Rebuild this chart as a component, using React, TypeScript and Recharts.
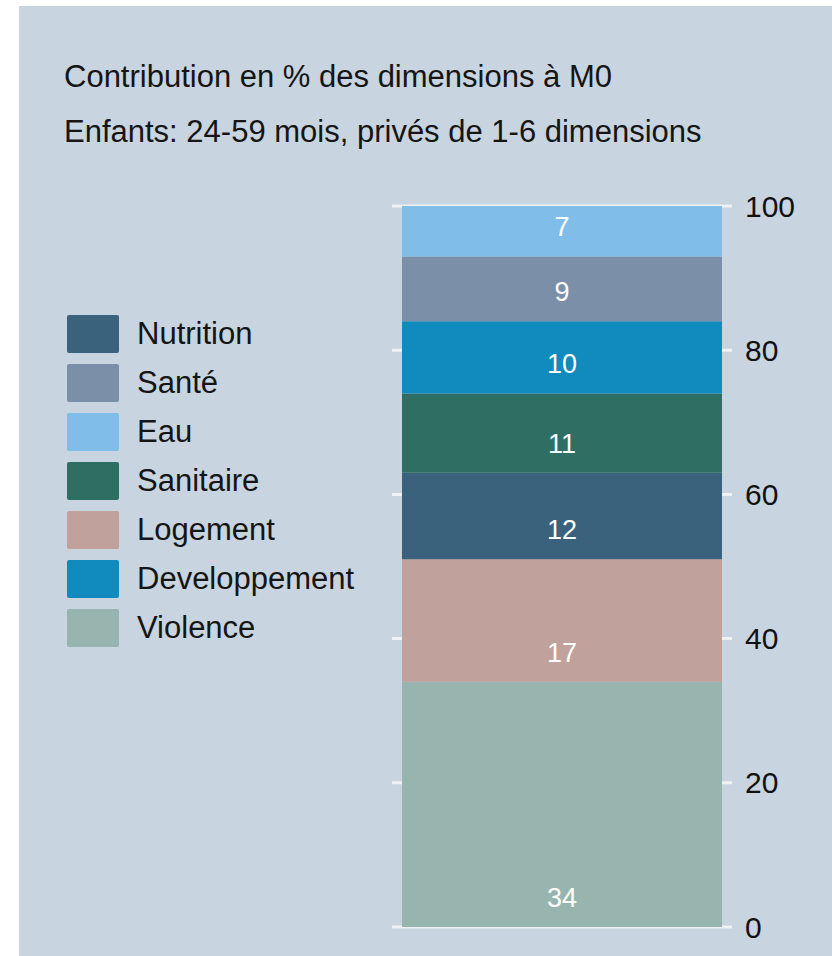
import React from 'react';
import { BarChart, Bar, XAxis, YAxis, CartesianGrid, LabelList } from 'recharts';

// stack order, bottom to top
const seriesNames = ['Violence', 'Logement', 'Nutrition', 'Sanitaire', 'Developpement', 'Santé', 'Eau'];
const seriesValues = [34, 17, 12, 11, 10, 9, 7];
const seriesColors = ['#97b5ae', '#c0a19c', '#3a627c', '#2e6e63', '#118abd', '#7b90a8', '#80bde8'];

const legendOrder = ['Nutrition', 'Santé', 'Eau', 'Sanitaire', 'Logement', 'Developpement', 'Violence'];
const yTicks = [0, 20, 40, 60, 80, 100];

const titleLines = [
    'Contribution en % des dimensions à M0',
    'Enfants: 24-59 mois, privés de 1-6 dimensions',
];

const FONT = '"Liberation Sans", Arial, Helvetica, sans-serif';
const BG = '#c8d4df';

const row: { [key: string]: number | string } = { name: 'M0' };
seriesNames.forEach((n, i) => { row[n] = seriesValues[i]; });
const data = [row];

function SegmentLabel(props: any) {
    const { x, y, width, height, value } = props;
    if (typeof x !== 'number' || typeof width !== 'number') return null;
    return (
        <text x={x + width / 2} y={y + height - 29} fill="#ffffff" textAnchor="middle"
            dominantBaseline="central" fontSize={27} fontFamily={FONT}>
            {value}
        </text>
    );
}

export default function App() {
    return (
        <div style={{ position: 'absolute', left: 0, top: 0, width: 832, height: 956, background: '#ffffff', overflow: 'hidden' }}>
            <div style={{ position: 'absolute', left: 19, top: 6, right: 0, bottom: 0, background: BG }} />

            {titleLines.map((t, i) => (
                <div key={t} style={{
                    position: 'absolute', left: 64, top: 59 + i * 55, fontFamily: FONT, fontSize: 31,
                    lineHeight: '36px', color: '#151515', whiteSpace: 'nowrap'
                }}>{t}</div>
            ))}

            <div style={{ position: 'absolute', left: 67, top: 315 }}>
                {legendOrder.map(name => (
                    <div key={name} style={{ display: 'flex', alignItems: 'center', height: 38, marginBottom: 11 }}>
                        <div style={{ width: 52, height: 38, borderRadius: 2, background: seriesColors[seriesNames.indexOf(name)] }} />
                        <span style={{ marginLeft: 18, fontFamily: FONT, fontSize: 31, color: '#151515', whiteSpace: 'nowrap' }}>{name}</span>
                    </div>
                ))}
            </div>

            <div style={{ position: 'absolute', left: 0, top: 0 }}>
                <BarChart width={832} height={956} data={data}
                    margin={{ top: 206, right: 20, bottom: 29, left: 392 }}
                    barCategoryGap={10}>
                    <CartesianGrid vertical={false} horizontal stroke="#eef2f5" strokeWidth={3} />
                    <XAxis dataKey="name" hide />
                    <YAxis orientation="right" domain={[0, 100]} ticks={yTicks} width={80}
                        axisLine={false} tickLine={false} tickSize={0} tickMargin={13}
                        tick={{ fill: '#111111', fontSize: 30, fontFamily: FONT }} />
                    {seriesNames.map((n, i) => (
                        <Bar key={n} dataKey={n} stackId="a" fill={seriesColors[i]} isAnimationActive={false}>
                            <LabelList dataKey={n} content={SegmentLabel} />
                        </Bar>
                    ))}
                </BarChart>
            </div>
        </div>
    );
}
